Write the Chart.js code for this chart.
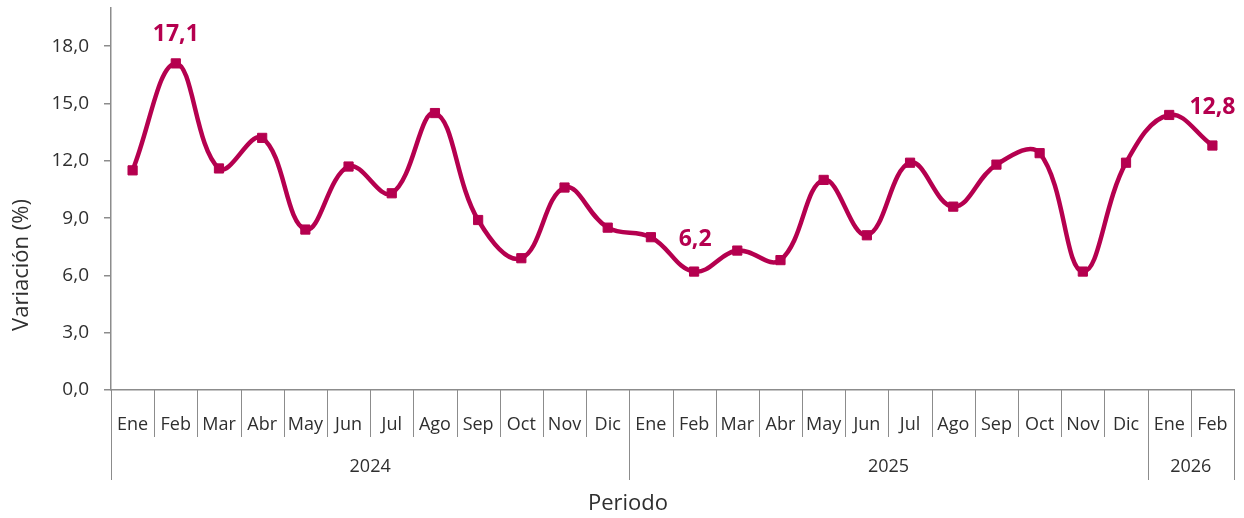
<!DOCTYPE html>
<html><head><meta charset="utf-8">
<script src="https://cdn.jsdelivr.net/npm/chart.js@4.4.1/dist/chart.umd.min.js"></script>
<style>html,body{margin:0;padding:0;background:#fff}#w{width:1244px;height:518px}</style>
</head><body><div id="w"><canvas id="c"></canvas></div>
<script>
const months = ["Ene","Feb","Mar","Abr","May","Jun","Jul","Ago","Sep","Oct","Nov","Dic",
                "Ene","Feb","Mar","Abr","May","Jun","Jul","Ago","Sep","Oct","Nov","Dic",
                "Ene","Feb"];
const years = ["2024","2025","2026"];
const yearSpans = [12, 12, 2];
const values = [11.5,17.1,11.6,13.2,8.4,11.7,10.3,14.5,8.9,6.9,10.6,8.5,
                8.0,6.2,7.3,6.8,11.0,8.1,11.9,9.6,11.8,12.4,6.2,11.9,
                14.4,12.8];
const yTicks = [0,3,6,9,12,15,18];
const labelled = [1, 13, 25];
const yTitle = "Variación (%)";
const xTitle = "Periodo";

const RED = "#B5004F";
const AXIS = "#8c8c8c";
const TXT = "#2f2f2f";
const FONT = "'Open Sans', 'Noto Sans', sans-serif";

const labelOffsets = {1:[0,-29], 13:[1,-32], 25:[0,-38]};

const extras = {
  id: 'extras',
  afterDraw(chart) {
    const ctx = chart.ctx, x = chart.scales.x, y = chart.scales.y;
    const base = y.getPixelForValue(0);
    const n = months.length;
    const half = (x.getPixelForValue(1) - x.getPixelForValue(0)) / 2;
    ctx.save();
    ctx.strokeStyle = AXIS; ctx.lineWidth = 1;
    for (let i = 0; i <= n; i++) {
      const px = Math.round(x.getPixelForValue(i) - half) + 0.5;
      ctx.beginPath(); ctx.moveTo(px, base); ctx.lineTo(px, base + 47); ctx.stroke();
    }
    let start = 0;
    ctx.fillStyle = TXT; ctx.font = "18px " + FONT;
    ctx.textAlign = 'center'; ctx.textBaseline = 'middle';
    const bounds = [0];
    yearSpans.forEach(s => { start += s; bounds.push(start); });
    bounds.forEach(b => {
      const px = Math.round(x.getPixelForValue(b) - half) + 0.5;
      ctx.beginPath(); ctx.moveTo(px, base); ctx.lineTo(px, base + 90); ctx.stroke();
    });
    for (let k = 0; k < years.length; k++) {
      const l = x.getPixelForValue(bounds[k]) - half;
      const r = x.getPixelForValue(bounds[k+1]) - half;
      ctx.fillText(years[k], (l + r) / 2, base + 77);
    }
    ctx.font = "22px " + FONT;
    ctx.fillText(xTitle, 628, 504);
    ctx.save();
    ctx.translate(22, 265);
    ctx.rotate(-Math.PI / 2);
    ctx.fillText(yTitle, 0, 0);
    ctx.restore();
    ctx.fillStyle = RED; ctx.font = "bold 23px " + FONT;
    const meta = chart.getDatasetMeta(0);
    labelled.forEach(i => {
      const p = meta.data[i];
      const o = labelOffsets[i];
      ctx.fillText(values[i].toFixed(1).replace('.', ','), p.x + o[0], p.y + o[1]);
    });
    ctx.restore();
  }
};

new Chart(document.getElementById('c'), {
  type: 'line',
  data: {
    labels: months,
    datasets: [{
      data: values,
      borderColor: RED, backgroundColor: RED,
      borderWidth: 4.5, tension: 0.4,
      pointStyle: 'rect', pointRadius: 6.5, pointBorderWidth: 1,
      pointBackgroundColor: RED, pointBorderColor: RED,
      clip: false
    }]
  },
  options: {
    responsive: true, maintainAspectRatio: false, animation: false,
    devicePixelRatio: 1,
    layout: { padding: { top: 8, right: 10, left: 0, bottom: 0 } },
    plugins: { legend: { display: false }, tooltip: { enabled: false } },
    scales: {
      x: {
        offset: true,
        grid: { display: false },
        border: { display: true, color: AXIS, width: 1.5 },
        ticks: { color: TXT, font: { family: FONT, size: 18 }, padding: 16, maxRotation: 0, autoSkip: false },
        afterFit(s) { s.height = 128; s.paddingLeft = 0; s.paddingRight = 0; }
      },
      y: {
        min: 0, max: 20,
        afterBuildTicks(s) { s.ticks = yTicks.map(v => ({ value: v })); },
        grid: { display: true, drawOnChartArea: false, drawTicks: true, tickLength: 7, color: AXIS, lineWidth: 1.5 },
        border: { display: true, color: AXIS, width: 1.5 },
        ticks: { color: TXT, font: { family: FONT, size: 19 }, padding: 15,
                 callback: v => Number(v).toFixed(1).replace('.', ',') },
        afterFit(s) { s.width = 111; s.paddingTop = 0; s.paddingBottom = 0; }
      }
    }
  },
  plugins: [extras]
});
</script></body></html>
